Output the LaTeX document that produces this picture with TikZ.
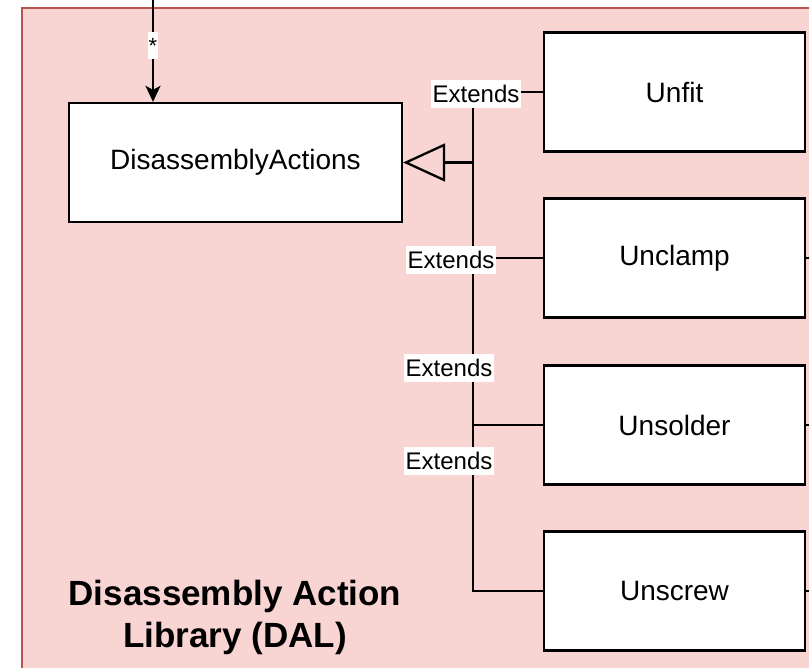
\documentclass[tikz,border=0pt]{standalone}
\usepackage{fontspec}
\setmainfont{Liberation Sans}
\usetikzlibrary{arrows.meta}
\definecolor{dalfill}{HTML}{F8D4D2}
\definecolor{dalline}{HTML}{B85450}
\tikzset{
  cls/.style={draw=black, line width=2.3pt, fill=white, minimum width=333pt, minimum height=119pt, font=\fontsize{28}{32}\selectfont, inner sep=0pt},
  sub/.style={cls, minimum width=261pt},
  ext/.style={fill=white, inner xsep=2pt, inner ysep=5pt, font=\fontsize{24}{28}\selectfont},
  link/.style={draw=black, line width=2.3pt},
}
\begin{document}
\begin{tikzpicture}[x=1pt, y=-1pt]
  \useasboundingbox (0,0) rectangle (809,668);
  \begin{scope}
    \clip (0,0) rectangle (809,668);
    % library container
    \draw[fill=dalfill, draw=dalline, line width=2pt] (22,8) rectangle (830,690);
  \end{scope}

  % classes
  \node[cls] (act) at (235.5,162.5) {DisassemblyActions};
  \node[sub] (unfit)    at (674.5,92)  {Unfit};
  \node[sub] (unclamp)  at (674.5,258) {Unclamp};
  \node[sub] (unsolder) at (674.5,425) {Unsolder};
  \node[sub] (unscrew)  at (674.5,591) {Unscrew};

  % trunk junction of the generalisation edges
  \coordinate (junc) at (473,162.5);
  \draw[link] (unfit.west) -| (junc);
  \draw[link] (unclamp.west) -| (junc);
  \draw[link] (unsolder.west) -| (junc);
  \draw[link] (unscrew.west) -| (junc);
  \draw[link, -{Triangle[open, length=42pt, width=38pt, line width=2.3pt]}] (junc) -- (act.east);

  % incoming association from above
  \coordinate (src) at (153,0);
  \draw[link, -{Stealth[length=16pt, width=15pt, inset=4pt]}] (src) -- (src |- act.north)
    node[pos=0.45, fill=white, inner xsep=1pt, inner ysep=6pt, font=\fontsize{22}{26}\selectfont] {*};

  % outgoing stubs on the right
  \coordinate (o2) at (809,258);
  \coordinate (o3) at (809,425);
  \coordinate (o4) at (809,591);
  \draw[link] (unclamp.east) -- (o2);
  \draw[link] (unsolder.east) -- (o3);
  \draw[link] (unscrew.east) -- (o4);

  % edge labels
  \node[ext] (e1) at (476,94)  {Extends};
  \node[ext] (e2) at (451,260) {Extends};
  \node[ext] (e3) at (449,368) {Extends};
  \node[ext] (e4) at (449,461) {Extends};

  % container title
  \node[font=\bfseries\fontsize{35}{42}\selectfont, align=center] (title) at (235,617) {Disassembly Action\\Library (DAL)};
\end{tikzpicture}
\end{document}
